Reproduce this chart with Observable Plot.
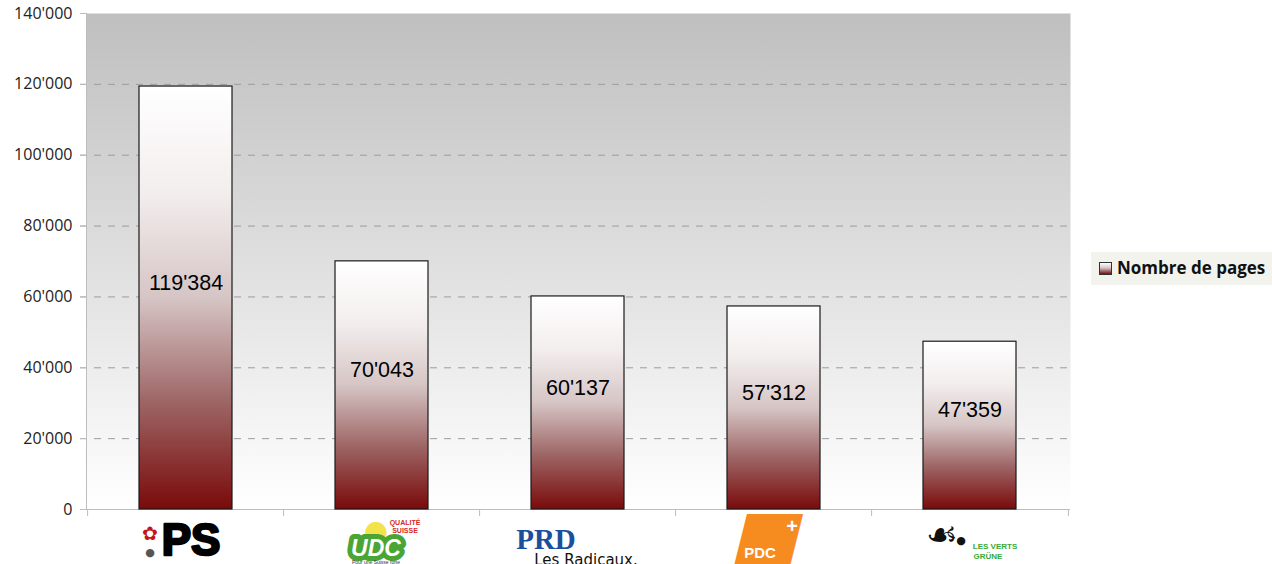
<!DOCTYPE html>
<html>
<head>
<meta charset="utf-8">
<script src="https://cdn.jsdelivr.net/npm/d3@7"></script>
<script src="https://cdn.jsdelivr.net/npm/@observablehq/plot@0.6"></script>
<style>
  html, body { margin: 0; padding: 0; background: #fff; }
  #wrap { position: relative; width: 1272px; height: 564px; overflow: hidden; }
  #chart { position: absolute; left: 0; top: 0; }
  #legend {
    position: absolute; left: 1091px; top: 252px; width: 181px; height: 33px;
    background: #f3f3ee; box-sizing: border-box;
    font-family: "Open Sans", "Liberation Sans", sans-serif; font-weight: 700; font-size: 17px; color: #111;
  }
  #legend .sw {
    position: absolute; left: 8px; top: 10px; width: 11px; height: 11px;
    border: 1px solid #333; background: linear-gradient(#ffffff, #d5c4c4 45%, #7a0c0c);
  }
  #legend .lb { position: absolute; left: 26px; top: 4px; white-space: nowrap; }
</style>
</head>
<body>
<div id="wrap">
  <div id="chart"></div>
  <div id="legend"><span class="sw"></span><span class="lb"></span></div>
</div>
<script>
// ---- data ----
const parties = ["PS", "UDC", "PRD", "PDC", "Les Verts"];
const pages = [119384, 70043, 60137, 57312, 47359];
const yTicks = [0, 20000, 40000, 60000, 80000, 100000, 120000, 140000];
const seriesName = "Nombre de pages";

const data = parties.map((p, i) => ({party: p, pages: pages[i]}));
const fmt = v => d3.format(",")(v).replace(/,/g, "'");

const W = 1080, H = 564, ML = 86, MR = 10, MT = 13, MB = 55;
const step = (W - ML - MR) / parties.length;
const gridColor = "#bdbdbd";

const only = name => data.filter(d => d.party === name);
// helper for logo texts below the axis (centered on line)
const logo = (name, text, o) => Plot.text(only(name), Object.assign(
  {x: "party", frameAnchor: "bottom", lineAnchor: "middle", text: typeof text === "function" ? text : () => text},
  o));

const plot = Plot.plot({
  width: W, height: H,
  marginLeft: ML, marginRight: MR, marginTop: MT, marginBottom: MB,
  style: {background: "transparent", overflow: "visible"},
  x: {domain: parties, paddingInner: 0.523, paddingOuter: 0.2615, axis: null},
  y: {domain: [0, 140000], axis: null, label: null},
  marks: [
    Plot.frame({fill: "white", stroke: "none", className: "bgframe"}),
    Plot.ruleY(yTicks.filter(v => v > 0 && v < 140000), {stroke: "#9c9c9c", strokeDasharray: "7,7", insetLeft: -6}),
    Plot.axisY({ticks: yTicks, tickSize: 6, tickPadding: 8, tickFormat: fmt, label: null,
      stroke: gridColor, fill: "#222", fontSize: 16, fontFamily: "Open Sans"}),
    Plot.frame({anchor: "left", stroke: gridColor}),
    Plot.ruleY([0], {stroke: gridColor}),
    Plot.ruleX(parties, {x: d => d, dx: -step / 2, y1: 0, y2: 0, insetBottom: -7, stroke: gridColor}),
    Plot.ruleX(parties.slice(-1), {x: d => d, dx: step / 2, y1: 0, y2: 0, insetBottom: -7, stroke: gridColor}),
    Plot.barY(data, {x: "party", y: "pages", fill: "white", stroke: "#1a1a1a", strokeWidth: 1.2, className: "bars"}),
    Plot.text(data, {x: "party", y: d => d.pages / 2, text: d => fmt(d.pages), dy: -15,
      fontSize: 21.5, fontFamily: "Liberation Sans", fill: "#000"}),
    // ---- category "logos" as text ----
    // PS
    logo("PS", "✿", {dx: -36, dy: 24, fontSize: 19, fill: "#c4161c", fontFamily: "DejaVu Sans"}),
    logo("PS", "●", {dx: -36, dy: 43, fontSize: 11, fill: "#555", fontFamily: "DejaVu Sans"}),
    logo("PS", "party", {text: "party", dx: 5, dy: 31, fontSize: 44, fontWeight: 700, fontFamily: "Liberation Sans",
      fill: "#000", stroke: "#000", strokeWidth: 2.5}),
    // UDC
    logo("UDC", "●", {dx: -6, dy: 22, fontSize: 28, fill: "#f3e34a", fontFamily: "DejaVu Sans"}),
    logo("UDC", "QUALITÉ", {dx: 23, dy: 13, fontSize: 7, fontWeight: 700, fill: "#d8261f", fontFamily: "Liberation Sans"}),
    logo("UDC", "SUISSE", {dx: 23, dy: 21, fontSize: 7, fontWeight: 700, fill: "#d8261f", fontFamily: "Liberation Sans"}),
    logo("UDC", "UDC", {dx: -6, dy: 39, fontSize: 23, fontWeight: 700, fontStyle: "italic", fontFamily: "Liberation Sans",
      fill: "#fff", stroke: "#4aa534", strokeWidth: 10, strokeLinejoin: "round", paintOrder: "stroke"}),
    logo("UDC", "Pour une Suisse forte", {dx: -6, dy: 53, fontSize: 5, fill: "#333", fontFamily: "Liberation Sans"}),
    // PRD
    logo("PRD", "PRD", {dx: -32, dy: 30, fontSize: 29, fontWeight: 700, fontFamily: "Liberation Serif", fill: "#1c4f9b"}),
    logo("PRD", "Les Radicaux.", {dx: 8, dy: 51, fontSize: 15, fontFamily: "DejaVu Sans", fill: "#111"}),
    // PDC
    logo("PDC", "██", {dx: -6, dy: 33, fontSize: 46, fill: "#f68b1f", fontFamily: "DejaVu Sans Mono", className: "pdcshape"}),
    logo("PDC", "PDC", {dx: -14, dy: 44, fontSize: 15, fontWeight: 700, fontFamily: "Liberation Sans", fill: "#fff"}),
    logo("PDC", "+", {dx: 18, dy: 17, fontSize: 20, fontWeight: 700, fill: "#fff", fontFamily: "Liberation Sans"}),
    // Les Verts
    logo("Les Verts", "☙", {dx: -28, dy: 26, fontSize: 36, fill: "#111", fontFamily: "DejaVu Sans"}),
    logo("Les Verts", "●", {dx: -9, dy: 31, fontSize: 11, fill: "#111", fontFamily: "DejaVu Sans"}),
    logo("Les Verts", "LES VERTS", {dx: 25, dy: 37, fontSize: 8, fontWeight: 700, fill: "#3aa835", fontFamily: "Liberation Sans"}),
    logo("Les Verts", "GRÜNE", {dx: 18, dy: 47, fontSize: 8, fontWeight: 700, fill: "#3aa835", fontFamily: "Liberation Sans"})
  ]
});

// gradients
const svg = d3.select(plot);
const defs = svg.insert("defs", ":first-child");
const bg = defs.append("linearGradient").attr("id", "bgGrad").attr("x1", 0).attr("y1", 0).attr("x2", 0).attr("y2", 1);
bg.append("stop").attr("offset", "0%").attr("stop-color", "#bfbfbf");
bg.append("stop").attr("offset", "100%").attr("stop-color", "#ffffff");
const bar = defs.append("linearGradient").attr("id", "barGrad").attr("x1", 0).attr("y1", 0).attr("x2", 0).attr("y2", 1);
[["0%", "#ffffff"], ["25%", "#f3eeee"], ["50%", "#d6c5c5"], ["75%", "#9d6464"], ["100%", "#7a0a0a"]]
  .forEach(([o, c]) => bar.append("stop").attr("offset", o).attr("stop-color", c));

svg.selectAll(".bgframe").attr("fill", "url(#bgGrad)");
svg.selectAll(".bgframe rect").attr("fill", "url(#bgGrad)");
svg.selectAll(".bars").attr("fill", "url(#barGrad)");
svg.selectAll(".bars rect").attr("fill", "url(#barGrad)");
// slant the PDC block (keep Plot's own translate)
svg.selectAll(".pdcshape text").attr("transform", function() {
  return (this.getAttribute("transform") || "") + " skewX(-14)";
});

document.getElementById("chart").appendChild(plot);
document.querySelector("#legend .lb").textContent = seriesName;
</script>
</body>
</html>
